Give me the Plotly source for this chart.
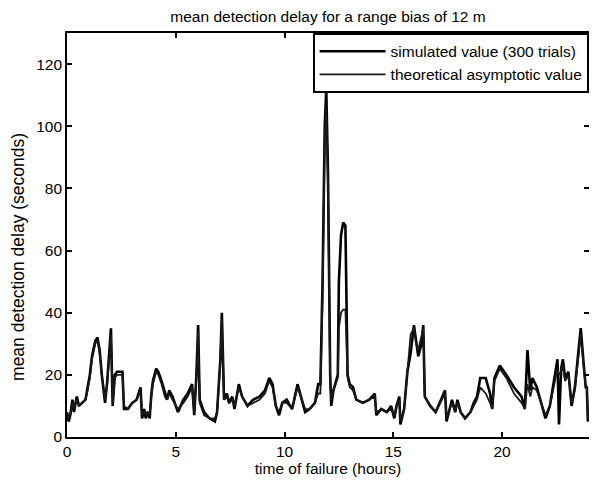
import plotly.graph_objects as go

hours = [
    0.0, 0.08, 0.15, 0.25, 0.32, 0.45, 0.55, 0.7, 0.85, 0.95,
    1.05, 1.15, 1.3, 1.4, 1.5, 1.6, 1.7, 1.75, 1.85, 1.95,
    2.02, 2.1, 2.2, 2.3, 2.55, 2.62, 2.8, 3.0, 3.2, 3.38,
    3.45, 3.55, 3.62, 3.7, 3.8, 3.88, 3.95, 4.1, 4.2, 4.35,
    4.5, 4.6, 4.7, 4.85, 5.1, 5.35, 5.55, 5.75, 5.85, 5.95,
    6.03, 6.1, 6.3, 6.55, 6.8, 6.9, 7.05, 7.12, 7.22, 7.35,
    7.45, 7.6, 7.7, 7.9, 8.05, 8.3, 8.55, 8.85, 9.1, 9.3,
    9.45, 9.6, 9.75, 9.9, 10.1, 10.35, 10.6, 10.8, 10.95, 11.15,
    11.4, 11.55, 11.65, 11.75, 11.85, 11.92, 12.0, 12.1, 12.15, 12.25,
    12.4, 12.45, 12.5, 12.6, 12.7, 12.8, 12.9, 13.0, 13.15, 13.3,
    13.6, 13.9, 14.15, 14.22, 14.45, 14.7, 14.9, 15.05, 15.15, 15.28,
    15.33, 15.5, 15.65, 15.8, 15.95, 16.05, 16.15, 16.3, 16.38, 16.45,
    16.7, 16.95, 17.15, 17.38, 17.45, 17.7, 17.85, 17.95, 18.1, 18.3,
    18.55, 18.7, 18.85, 19.0, 19.25, 19.45, 19.55, 19.65, 19.9, 20.2,
    20.55, 20.9, 21.05, 21.17, 21.3, 21.4, 21.6, 21.75, 22.0, 22.2,
    22.45, 22.55, 22.62, 22.72, 22.8, 22.9, 23.05, 23.2, 23.35, 23.55,
    23.62, 23.75, 23.85, 23.9, 23.95, 24.0,
]

simulated = [
    8, 5, 7, 12, 8, 13, 10, 11, 12, 16,
    20, 26, 31, 32, 28, 20, 14, 11, 18, 28,
    35, 10, 20, 21, 21, 9, 9, 11, 12, 16,
    6, 9, 6, 8, 6, 14, 18, 22, 21, 18,
    14, 12, 15, 13, 8, 12, 14, 17, 7, 20,
    36, 12, 8, 6, 5, 8, 25, 40, 12, 14,
    11, 13, 9, 17, 13, 10, 12, 13, 15, 19,
    17, 10, 7, 11, 12, 9, 17, 12, 8, 9,
    11, 17, 17, 50, 100, 112, 85, 20, 10, 15,
    19, 20, 50, 65, 69, 68, 20, 17, 16, 12,
    11, 12, 14, 7, 9, 8, 10, 6, 10, 13,
    4, 9, 21, 27, 36, 30, 26, 30, 36, 13,
    10, 8, 11, 15, 5, 12, 8, 12, 8, 6,
    8, 11, 13, 19, 19, 14, 9, 19, 23, 20,
    16, 13, 9, 28, 15, 19, 16, 12, 6, 10,
    21, 25, 4, 22, 25, 19, 21, 10, 16, 30,
    35, 24, 16, 16, 5, 6,
]

theoretical = [
    7, 6, 7, 11, 9, 12, 10, 11, 12, 15,
    19, 25, 30, 31, 27, 20, 14, 12, 17, 26,
    33, 11, 19, 20, 20, 10, 9, 11, 12, 15,
    7, 8, 7, 8, 7, 13, 17, 21, 20, 17,
    13, 12, 14, 12, 9, 11, 13, 16, 8, 19,
    34, 11, 7, 6, 6, 8, 24, 38, 12, 13,
    11, 12, 10, 16, 13, 10, 11, 12, 14, 18,
    16, 10, 8, 11, 11, 9, 16, 12, 9, 9,
    11, 14, 14, 45, 95, 106, 80, 18, 12, 15,
    18, 19, 35, 40, 41, 41, 19, 16, 15, 12,
    11, 12, 13, 8, 9, 8, 9, 7, 10, 12,
    5, 9, 22, 33, 35, 30, 28, 33, 35, 13,
    10, 8, 11, 14, 6, 11, 8, 11, 8, 6,
    8, 10, 12, 16, 14, 11, 9, 18, 22, 19,
    14, 11, 9, 17, 13, 16, 15, 12, 7, 10,
    19, 22, 20, 21, 23, 18, 20, 11, 15, 28,
    33, 23, 16, 16, 6, 7,
]

x_ticks = [0, 5, 10, 15, 20]
y_ticks = [0, 20, 40, 60, 80, 100, 120]

FONT = "Liberation Sans, Arial, sans-serif"

fig = go.Figure()
fig.add_trace(go.Scatter(
    x=hours, y=simulated, mode="lines",
    name="simulated value (300 trials)",
    line=dict(color="black", width=2.6),
))
fig.add_trace(go.Scatter(
    x=hours, y=theoretical, mode="lines",
    name="theoretical asymptotic value",
    line=dict(color="#1a1a1a", width=1.8),
))

axis_common = dict(
    showline=True, linecolor="black", linewidth=1.6, mirror="ticks",
    ticks="inside", ticklen=5, tickcolor="black", tickwidth=1.6,
    showgrid=False, zeroline=False, automargin=False,
    tickfont=dict(family=FONT, size=15.5, color="black"),
)

fig.update_layout(
    width=597, height=488,
    margin=dict(l=59, r=16, t=25, b=59),
    paper_bgcolor="white", plot_bgcolor="white",
    title=dict(
        text="mean detection delay for a range bias of 12 m",
        x=0.5, xanchor="center", xref="paper",
        y=0.982, yanchor="middle",
        font=dict(family=FONT, size=15.5, color="black"),
    ),
    xaxis=dict(
        range=[0, 24], tickvals=x_ticks,
        title=dict(text="time of failure (hours)", standoff=4,
                   font=dict(family=FONT, size=15.5, color="black")),
        **axis_common,
    ),
    yaxis=dict(
        range=[0, 130], tickvals=y_ticks,
        **axis_common,
    ),
    annotations=[dict(
        text="mean detection delay (seconds)",
        xref="paper", yref="paper", x=-0.094, y=0.4455,
        xanchor="center", yanchor="middle", textangle=-90,
        showarrow=False,
        font=dict(family=FONT, size=17.5, color="black"),
    )],
    legend=dict(
        x=1, y=1, xanchor="right", yanchor="top",
        bgcolor="white", bordercolor="black", borderwidth=1.6,
        font=dict(family=FONT, size=15.5, color="black"),
        tracegroupgap=0, itemwidth=66,
    ),
    showlegend=True,
)

fig.write_html("out.html")
